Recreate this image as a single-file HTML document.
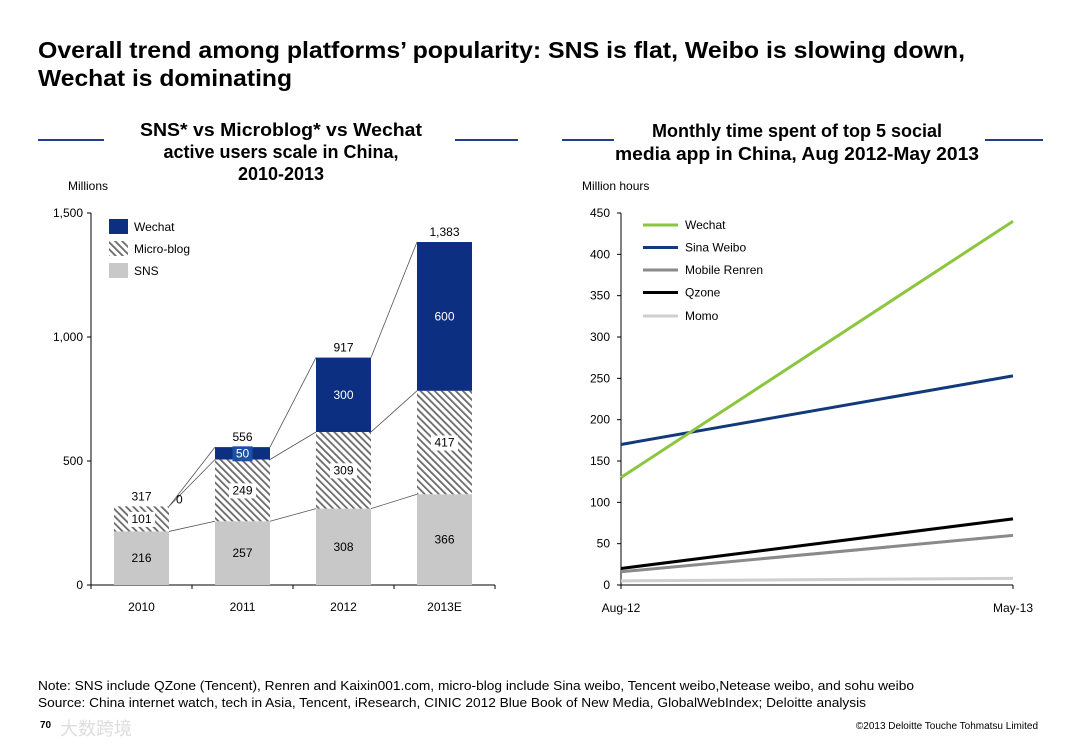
<!DOCTYPE html>
<html><head><meta charset="utf-8">
<style>
body{margin:0;background:#fff;font-family:"Liberation Sans","Noto Sans CJK SC",sans-serif;}
svg text{font-family:"Liberation Sans","Noto Sans CJK SC",sans-serif;}
</style></head>
<body>
<svg id="s" width="1080" height="748" viewBox="0 0 1080 748" xmlns="http://www.w3.org/2000/svg">
<defs>
<pattern id="hatch" patternUnits="userSpaceOnUse" width="5" height="5" patternTransform="rotate(-45)">
<rect width="5" height="5" fill="#fff"/><rect width="1.8" height="5" fill="#6a6a6a"/>
</pattern>
</defs>
<text x="38" y="58" font-size="23" font-weight="bold" fill="#000" textLength="927" lengthAdjust="spacingAndGlyphs">Overall trend among platforms’ popularity: SNS is flat, Weibo is slowing down,</text>
<text x="38" y="86" font-size="23" font-weight="bold" fill="#000" textLength="254" lengthAdjust="spacingAndGlyphs">Wechat is dominating</text>
<line x1="38" y1="140" x2="104" y2="140" stroke="#1f3e8c" stroke-width="2"/>
<line x1="455" y1="140" x2="518" y2="140" stroke="#1f3e8c" stroke-width="2"/>
<line x1="562" y1="140" x2="614" y2="140" stroke="#1f3e8c" stroke-width="2"/>
<line x1="985" y1="140" x2="1043" y2="140" stroke="#1f3e8c" stroke-width="2"/>
<g font-size="18" font-weight="bold" text-anchor="middle">
<text x="281" y="136" textLength="282" lengthAdjust="spacingAndGlyphs">SNS* vs Microblog* vs Wechat</text>
<text x="281" y="158">active users scale in China,</text>
<text x="281" y="180">2010-2013</text></g>
<g font-size="18" font-weight="bold" text-anchor="middle">
<text x="797" y="137">Monthly time spent of top 5 social</text>
<text x="797" y="160" textLength="364" lengthAdjust="spacingAndGlyphs">media app in China, Aug 2012-May 2013</text></g>
<text x="68" y="190" font-size="12">Millions</text>
<text x="582" y="190" font-size="12">Million hours</text>
<g id="left"></g><g id="right"></g>
<text x="38" y="690" font-size="13" textLength="876" lengthAdjust="spacingAndGlyphs">Note: SNS include QZone (Tencent), Renren and Kaixin001.com, micro-blog include Sina weibo, Tencent weibo,Netease weibo, and sohu weibo</text>
<text x="38" y="707" font-size="13" textLength="828" lengthAdjust="spacingAndGlyphs">Source: China internet watch, tech in Asia, Tencent, iResearch, CINIC 2012 Blue Book of New Media, GlobalWebIndex; Deloitte analysis</text>
<text x="40" y="728" font-size="10" font-weight="bold">70</text>
<text x="1038" y="729" font-size="10" text-anchor="end">©2013 Deloitte Touche Tohmatsu Limited</text>
<text x="60" y="735" font-size="18" fill="#ddd">大数跨境</text>
</svg>
<script>
const categories=["2010","2011","2012","2013E"];
const sns=[216,257,308,366];
const micro=[101,249,309,417];
const wechat=[0,50,300,600];
const totals=["317","556","917","1,383"];
const leftTicks=[0,500,1000,1500];
const leftTickLabels=["0","500","1,000","1,500"];
const months=["Aug-12","May-13"];
const lineNames=["Wechat","Sina Weibo","Mobile Renren","Qzone","Momo"];
const wechatHours=[130,440];
const weiboHours=[170,253];
const renrenHours=[16,60];
const qzoneHours=[20,80];
const momoHours=[5,8];
const rightTicks=[0,50,100,150,200,250,300,350,400,450];

const NS="http://www.w3.org/2000/svg";
function mk(p,t,a){const e=document.createElementNS(NS,t);for(const k in a)e.setAttribute(k,a[k]);p.appendChild(e);return e;}
const L=document.getElementById('left');
const lx0=91,lx1=495,ly0=585,ly1=213;
const ly=v=>ly0-(v/1500)*(ly0-ly1);
const band=(lx1-lx0)/categories.length;
const bx=i=>lx0+band*i+band/2;
const bw=55;
let ax=mk(L,'line',{x1:lx0,y1:ly1,x2:lx0,y2:ly0,stroke:'#000'});

ax=mk(L,'line',{x1:lx0,y1:ly0,x2:lx1,y2:ly0,stroke:'#000'});

leftTicks.forEach((t,i)=>{
 mk(L,'line',{x1:lx0-4,y1:ly(t),x2:lx0,y2:ly(t),stroke:'#000'});
 const e=mk(L,'text',{x:lx0-8,y:ly(t)+4,'font-size':12,'text-anchor':'end'});e.textContent=leftTickLabels[i];
 
});
for(let i=0;i<=categories.length;i++)mk(L,'line',{x1:lx0+band*i,y1:ly0,x2:lx0+band*i,y2:ly0+4,stroke:'#000'});
for(let i=0;i<categories.length-1;i++){
 const r=bx(i)+bw/2,l=bx(i+1)-bw/2;
 const a=[sns[i],sns[i]+micro[i],sns[i]+micro[i]+wechat[i]];
 const b=[sns[i+1],sns[i+1]+micro[i+1],sns[i+1]+micro[i+1]+wechat[i+1]];
 for(let k=0;k<3;k++){const c=mk(L,'line',{x1:r,y1:ly(a[k]),x2:l,y2:ly(b[k]),stroke:'#555','stroke-width':0.8});
 }
}
categories.forEach((c,i)=>{
 const x=bx(i)-bw/2;
 let r=mk(L,'rect',{x:x,y:ly(sns[i]),width:bw,height:ly(0)-ly(sns[i]),fill:'#c8c8c8'});
 
 r=mk(L,'rect',{x:x,y:ly(sns[i]+micro[i]),width:bw,height:ly(sns[i])-ly(sns[i]+micro[i]),fill:'url(#hatch)'});
 
 if(wechat[i]>0){r=mk(L,'rect',{x:x,y:ly(sns[i]+micro[i]+wechat[i]),width:bw,height:ly(sns[i]+micro[i])-ly(sns[i]+micro[i]+wechat[i]),fill:'#0d2f82'});
 }
 const lab=(v,y,col,bg)=>{if(bg){const w=String(v).length*7+6;mk(L,'rect',{x:bx(i)-w/2,y:y-11,width:w,height:15,fill:bg});}
  const t=mk(L,'text',{x:bx(i),y:y,'font-size':12,'text-anchor':'middle',fill:col});t.textContent=v;
  };
 lab(sns[i],ly(sns[i]/2)+4,'#000');
 lab(micro[i],ly(sns[i]+micro[i]/2)+4,'#000','#fff');
 if(wechat[i]>0)lab(wechat[i],ly(sns[i]+micro[i]+wechat[i]/2)+4,'#fff',wechat[i]<100?'#1c4fa8':null);
 const t=mk(L,'text',{x:bx(i),y:ly(sns[i]+micro[i]+wechat[i])-6,'font-size':12,'text-anchor':'middle'});t.textContent=totals[i];
 
 const xl=mk(L,'text',{x:bx(i),y:ly0+26,'font-size':12,'text-anchor':'middle'});xl.textContent=c;
 
});
{const t=mk(L,'text',{x:bx(0)+bw/2+7,y:ly(sns[0]+micro[0])-3,'font-size':12});t.textContent=String(wechat[0]);
 }
[['Wechat','#0d2f82'],['Micro-blog','url(#hatch)'],['SNS','#c8c8c8']].forEach((d,k)=>{
 const y=219+k*22;
 const g=mk(L,'g',{});
 mk(g,'rect',{x:109,y:y,width:19,height:15,fill:d[1]});
 const t=mk(g,'text',{x:134,y:y+12,'font-size':12});t.textContent=d[0];
});
const R=document.getElementById('right');
const rx0=621,rx1=1013,ry0=585,ry1=213;
const ry=v=>ry0-(v/450)*(ry0-ry1);
const rx=i=>rx0+(rx1-rx0)*i/(months.length-1);
ax=mk(R,'line',{x1:rx0,y1:ry1,x2:rx0,y2:ry0,stroke:'#000'});

ax=mk(R,'line',{x1:rx0,y1:ry0,x2:rx1,y2:ry0,stroke:'#000'});

rightTicks.forEach(t=>{
 mk(R,'line',{x1:rx0-4,y1:ry(t),x2:rx0,y2:ry(t),stroke:'#000'});
 const e=mk(R,'text',{x:rx0-11,y:ry(t)+4,'font-size':12,'text-anchor':'end'});e.textContent=t;
 
});
months.forEach((m,i)=>{
 mk(R,'line',{x1:rx(i),y1:ry0,x2:rx(i),y2:ry0+4,stroke:'#000'});
 const e=mk(R,'text',{x:rx(i),y:ry0+27,'font-size':12,'text-anchor':'middle'});e.textContent=m;
 
});
const series=[wechatHours,weiboHours,renrenHours,qzoneHours,momoHours];
const colors=['#8cc63e','#123a7a','#8a8a8a','#000','#cfcfcf'];
[4,2,3,1,0].forEach(k=>{
 const p=mk(R,'polyline',{points:series[k].map((v,i)=>rx(i)+','+ry(v)).join(' '),fill:'none',stroke:colors[k],'stroke-width':3});
 
});
lineNames.forEach((n,k)=>{
 const y=225+k*22.5+(k==4?1:0);
 const g=mk(R,'g',{});
 mk(g,'line',{x1:643,y1:y,x2:678,y2:y,stroke:colors[k],'stroke-width':3});
 const t=mk(g,'text',{x:685,y:y+4,'font-size':12});t.textContent=n;
});
</script>
</body></html>
